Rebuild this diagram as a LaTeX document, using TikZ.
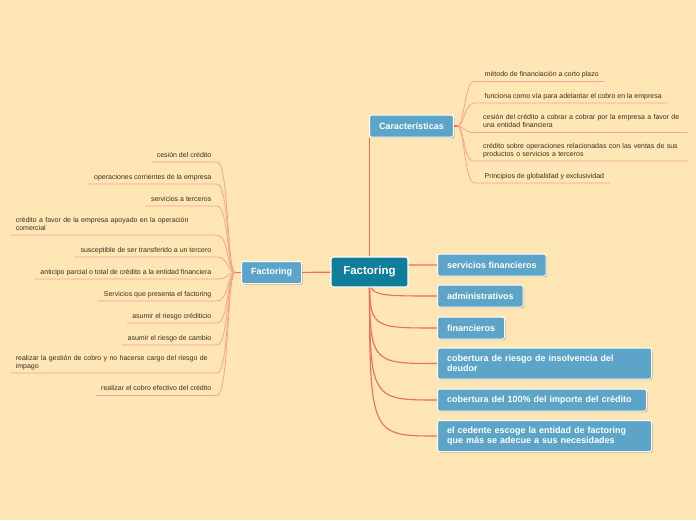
\documentclass[tikz,border=0pt]{standalone}
\usepackage{fontspec}
\setmainfont{Liberation Sans}
\usepackage{tikz}
\usetikzlibrary{shadows, backgrounds}

\definecolor{paper}{HTML}{FFE6B4}
\definecolor{rootblue}{HTML}{0F7E9B}
\definecolor{topicblue}{HTML}{5CA5C9}
\definecolor{mainline}{HTML}{F36B5C}
\definecolor{leafline}{HTML}{F8A38C}
\definecolor{leaftext}{HTML}{3A2E25}

\tikzstyle{root} = [
  rectangle, rounded corners=2.5pt, draw=white, line width=1.2pt,
  fill=rootblue, text=white, minimum width=77pt, minimum height=30pt,
  inner sep=0pt, font=\fontsize{11.5}{13}\selectfont\bfseries
]
\tikzstyle{topic} = [
  rectangle, rounded corners=2pt, draw=white, line width=1pt,
  fill=topicblue, text=white, minimum height=22pt,
  inner xsep=9.5pt, inner ysep=0pt, font=\fontsize{9}{10}\selectfont\bfseries,
  drop shadow={shadow xshift=1pt, shadow yshift=-1.2pt, fill=black, opacity=0.25}
]
\tikzstyle{topicwide} = [topic, text width=195pt, align=left, minimum height=31pt]
\tikzstyle{leaf} = [
  inner xsep=5.5pt, inner ysep=2.5pt, text=leaftext,
  font=\fontsize{7}{8}\selectfont, text height=5.2pt, text depth=2pt
]
\tikzstyle{leafwide} = [
  inner xsep=5pt, inner ysep=2pt, text=leaftext,
  font=\fontsize{7}{8}\selectfont, align=left
]
\tikzstyle{mainlink} = [draw=mainline, line width=1.1pt]
\tikzstyle{leaflink} = [draw=leafline, line width=0.8pt]

\begin{document}
\begin{tikzpicture}[x=1pt, y=-1pt]

  \begin{scope}[on background layer]
    \fill[paper] (0,0) rectangle (696,520);
  \end{scope}
  \useasboundingbox (0,0) rectangle (696,520);

  % centre and main branches
  \node[root] (root) at (369.5,272) {Factoring};
  \node[topic] (fact) at (271.5,272.5) {Factoring};
  \node[topic] (carac) at (411.5,126) {Características};

  \node[topic, anchor=west] (serv) at (437,265) {servicios financieros};
  \node[topic, anchor=west] (admin) at (437,296) {administrativos};
  \node[topic, anchor=west] (finan) at (437,328) {financieros};
  \node[topicwide, anchor=west] (insolv) at (437,363.5) {cobertura de riesgo de insolvencia del\\deudor};
  \node[topic, text width=190pt, align=left, anchor=west] (total) at (437,400) {cobertura del 100\% del importe del crédito};
  \node[topicwide, anchor=west] (cedente) at (437,436) {el cedente escoge la entidad de factoring\\que más se adecue a sus necesidades};

  % leaves of the left Factoring
  \foreach \y/\txt/\nm in {
      162/cesión del crédito/a1,
      184/operaciones corrientes de la empresa/a2,
      206/servicios a terceros/a3,
      257/susceptible de ser transferido a un tercero/a5,
      279/anticipo parcial o total de crédito a la entidad financiera/a6,
      301/Servicios que presenta el factoring/a7,
      323/asumir el riesgo créditicio/a8,
      345/asumir el riesgo de cambio/a9,
      395.5/realizar el cobro efectivo del crédito/a11}
    \node[leaf, anchor=south east] (\nm) at (217,\y) {\txt};
  \node[leafwide, text width=196pt, anchor=south east] (a4) at (217,235)
    {crédito a favor de la empresa apoyado en la operación\\comercial\strut};
  \node[leafwide, text width=196pt, anchor=south east] (a10) at (217,373)
    {realizar la gestión de cobro y no hacerse cargo del riesgo de\\impago\strut};

  % leaves of Características
  \foreach \y/\txt/\nm in {
      81.5/método de financiación a corto plazo/b1,
      103/funciona como vía para adelantar el cobro en la empresa/b2,
      183/Principios de globalidad y exclusividad/b5}
    \node[leaf, anchor=south west] (\nm) at (479,\y) {\txt};
  \node[leafwide, text width=199pt, anchor=south west] (b3) at (478,132.5)
    {cesión del crédito a cobrar a cobrar por la empresa a favor de\\una entidad financiera\strut};
  \node[leafwide, text width=199pt, anchor=south west] (b4) at (478,161)
    {crédito sobre operaciones relacionadas con las ventas de sus\\productos o servicios a terceros\strut};

  % connectors
  \begin{scope}[on background layer]
    \draw[mainlink] (root.center) -- (root.center |- carac.south);
    \draw[mainlink] (root.center) -- (fact.center);
    \foreach \nm in {serv, admin, finan, insolv, total, cedente}
      \draw[mainlink] (root.center) .. controls (root.center |- \nm.west) .. (\nm.west);

    \coordinate (lhub) at ([xshift=-6pt]fact.west);
    \draw[mainlink] (fact.center) -- (lhub);
    \foreach \i in {1,...,11}
      \draw[leaflink] (lhub) to[out=180, in=0, out distance=8pt, in distance=12pt]
        (a\i.south east) -- (a\i.south west);

    \coordinate (rhub) at ([xshift=4pt]carac.east);
    \draw[mainlink] (carac.center) -- (rhub);
    \foreach \i in {1,...,5}
      \draw[leaflink] (rhub) to[out=0, in=180, out distance=6pt, in distance=9pt]
        ([xshift=-5pt]b\i.south west) -- (b\i.south east);
  \end{scope}

\end{tikzpicture}
\end{document}
